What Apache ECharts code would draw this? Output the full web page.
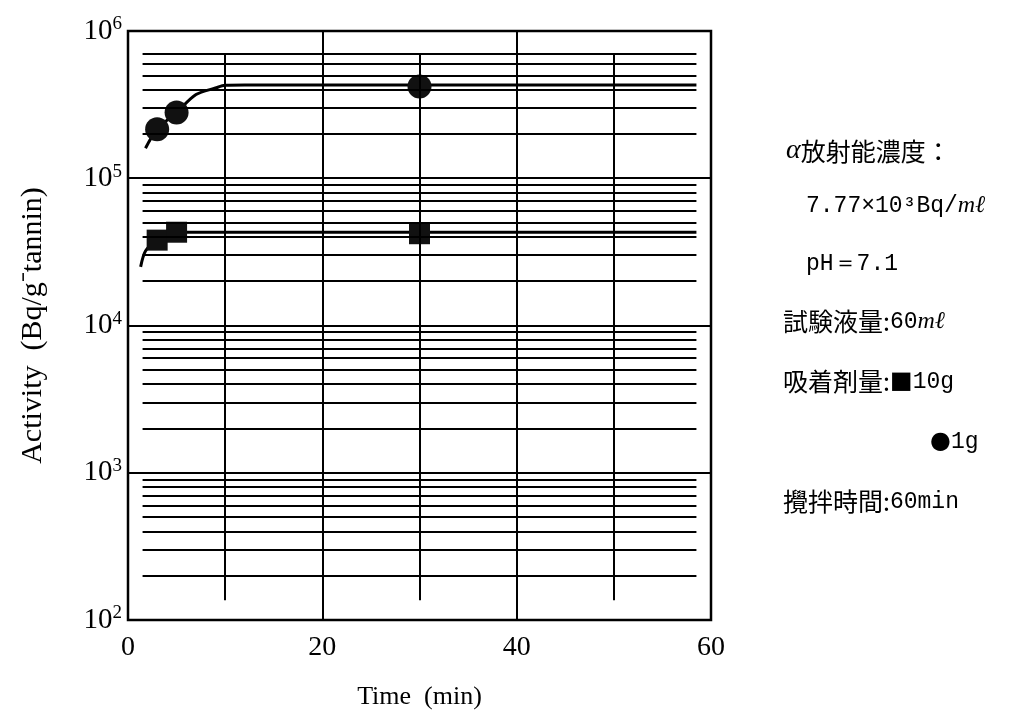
<!DOCTYPE html>
<html>
<head>
<meta charset="utf-8">
<script src="https://cdn.jsdelivr.net/npm/echarts@6/dist/echarts.min.js"></script>
<style>
  html, body { margin: 0; padding: 0; background: #fff; }
  #chart { width: 1016px; height: 711px; }
</style>
</head>
<body>
<div id="chart"></div>
<script>
// measured points (time in min, activity in Bq/g-tannin)
const timeMin = [3, 5, 30];
const activity10g = [3.8e4, 4.3e4, 4.2e4];
const activity1g = [2.15e5, 2.8e5, 4.2e5];

// hand drawn fit curves
const fit1gX = [1.8, 3, 5, 7, 9, 10, 12, 58.5];
const fit1gY = [1.6e5, 2.15e5, 2.8e5, 3.7e5, 4.1e5, 4.28e5, 4.3e5, 4.3e5];
const fit10gX = [1.3, 1.8, 2.9, 4, 5.3, 58.5];
const fit10gY = [2.5e4, 3.2e4, 3.8e4, 4.15e4, 4.3e4, 4.3e4];

// graph paper lines
const paperMantissa = [2, 3, 4, 5, 6, 7, 8, 9];
const paperTopMantissa = [2, 3, 4, 5, 6, 7];
const paperDecades = [100, 1000, 10000];
const paperTopDecade = 100000;
const paperXStart = 1.5;
const paperXEnd = 58.5;
const shortVerticals = [10, 30, 50];
const shortVerticalRange = [136, 7e5];

const xTicks = [0, 20, 40, 60];

const notes = [
  { text: "{i|α}{c|放射能濃度：}", x: 786, y: 153 },
  { text: "{m|7.77×10³Bq/}{it|mℓ}", x: 806, y: 210 },
  { text: "{m|pH＝7.1}", x: 806, y: 268 },
  { text: "{c|試験液量:}{m|60}{it|mℓ}", x: 783, y: 325 },
  { text: "{c|吸着剤量:}{k|■}{m|10g}", x: 783, y: 385 },
  { text: "{k|●}{m|1g}", x: 930, y: 446 },
  { text: "{c|攪拌時間:}{m|60min}", x: 783, y: 505 }
];

const pair = (xs, ys) => xs.map((x, i) => [x, ys[i]]);

let paperLevels = [];
paperDecades.forEach(d => paperMantissa.forEach(m => paperLevels.push(m * d)));
paperTopMantissa.forEach(m => paperLevels.push(m * paperTopDecade));

const paperLines = paperLevels.map(v => [
  { coord: [paperXStart, v] },
  { coord: [paperXEnd, v] }
]);
shortVerticals.forEach(x => paperLines.push([
  { coord: [x, shortVerticalRange[0]] },
  { coord: [x, shortVerticalRange[1]] }
]));

const serif = "Liberation Serif";
const noteRich = {
  c: { fontFamily: "Noto Sans CJK JP", fontSize: 25, color: "#000" },
  m: { fontFamily: "Liberation Mono", fontSize: 23, color: "#000" },
  it: { fontFamily: serif, fontStyle: "italic", fontSize: 24, color: "#000" },
  i: { fontFamily: serif, fontStyle: "italic", fontSize: 28, color: "#000" },
  k: { fontFamily: "DejaVu Sans", fontSize: 24, color: "#111" }
};

const chart = echarts.init(document.getElementById("chart"));
chart.setOption({
  backgroundColor: "#fff",
  animation: false,
  grid: {
    left: 128, right: 305, top: 31, bottom: 91,
    outerBoundsMode: "none",
    show: true, borderColor: "#000", borderWidth: 2.5
  },
  xAxis: {
    type: "value",
    min: 0, max: 60, interval: 20,
    axisLine: { show: false },
    axisTick: { show: false },
    axisLabel: {
      fontFamily: serif, fontSize: 28, color: "#000", margin: 14,
      customValues: xTicks
    },
    splitLine: { show: true, lineStyle: { color: "#000", width: 2 } },
    name: "Time  (min)",
    nameLocation: "middle",
    nameGap: 64,
    nameTextStyle: { fontFamily: serif, fontSize: 26, color: "#000" }
  },
  yAxis: {
    type: "log",
    logBase: 10,
    min: 100, max: 1e6,
    axisLine: { show: false },
    axisTick: { show: false },
    axisLabel: {
      margin: 6,
      formatter: v => "{b|10}{s|" + Math.round(Math.log10(v)) + "}",
      rich: {
        b: { fontFamily: serif, fontSize: 29, color: "#000", lineHeight: 32 },
        s: { fontFamily: serif, fontSize: 19, color: "#000", verticalAlign: "top", lineHeight: 32 }
      }
    },
    splitLine: { show: true, lineStyle: { color: "#000", width: 2 } },
    name: "Activity  (Bq/g⁻tannin)",
    nameLocation: "middle",
    nameRotate: 90,
    nameGap: 80,
    nameTextStyle: { fontFamily: serif, fontSize: 30, color: "#000" }
  },
  graphic: notes.map(n => ({
    type: "text",
    left: n.x,
    top: n.y - 16,
    style: { text: n.text, rich: noteRich, fill: "#000" }
  })),
  series: [
    {
      name: "paper",
      type: "line",
      data: [],
      silent: true,
      z: 1,
      markLine: {
        silent: true,
        symbol: "none",
        label: { show: false },
        lineStyle: { color: "#000", width: 2, type: "solid" },
        emphasis: { disabled: true },
        data: paperLines
      }
    },
    {
      name: "fit 1g",
      type: "line",
      data: pair(fit1gX, fit1gY),
      smooth: 0.3,
      symbol: "none",
      lineStyle: { color: "#000", width: 3 },
      z: 3
    },
    {
      name: "fit 10g",
      type: "line",
      data: pair(fit10gX, fit10gY),
      smooth: 0.3,
      symbol: "none",
      lineStyle: { color: "#000", width: 3 },
      z: 3
    },
    {
      name: "1g",
      type: "scatter",
      data: pair(timeMin, activity1g),
      symbol: "circle",
      symbolSize: 24,
      itemStyle: { color: "#111", opacity: 1 },
      z: 4
    },
    {
      name: "10g",
      type: "scatter",
      data: pair(timeMin, activity10g),
      symbol: "rect",
      symbolSize: 21,
      itemStyle: { color: "#111", opacity: 1 },
      z: 4
    }
  ]
});
</script>
</body>
</html>
